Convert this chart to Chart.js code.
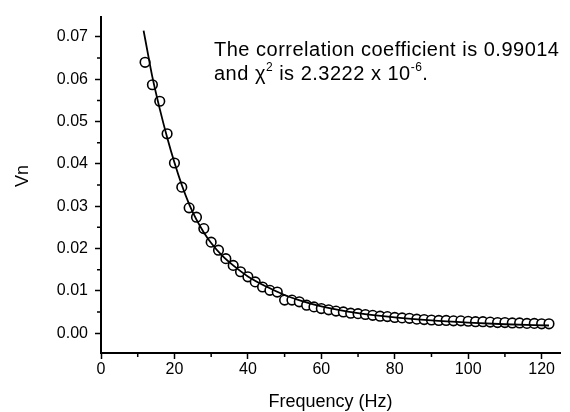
<!DOCTYPE html>
<html>
<head>
<meta charset="utf-8">
<script src="https://cdn.jsdelivr.net/npm/chart.js@4.4.1/dist/chart.umd.min.js"></script>
<style>
    html, body { margin: 0; padding: 0; background: #fff; }
</style>
</head>
<body>
<canvas id="vnChart" width="570" height="412"></canvas>
<script>
// measured points (open circles)
const freq = [12, 14, 16, 18, 20, 22, 24, 26, 28, 30, 32, 34, 36, 38, 40, 42, 44, 46, 48, 50,
    52, 54, 56, 58, 60, 62, 64, 66, 68, 70, 72, 74, 76, 78, 80, 82, 84, 86, 88, 90,
    92, 94, 96, 98, 100, 102, 104, 106, 108, 110, 112, 114, 116, 118, 120, 122];
const vn = [0.0640, 0.0587, 0.0548, 0.0471, 0.0402, 0.0345, 0.0296, 0.0274, 0.0247, 0.0215,
    0.0196, 0.0176, 0.0160, 0.0145, 0.0133, 0.0121, 0.0109, 0.0101, 0.0097, 0.0078,
    0.0078, 0.0074, 0.0066, 0.0062, 0.0058, 0.0055, 0.0052, 0.0050, 0.0047, 0.0046,
    0.0044, 0.0042, 0.0040, 0.0039, 0.0037, 0.0036, 0.0035, 0.0033, 0.0032, 0.0031,
    0.0030, 0.0030, 0.0029, 0.0029, 0.0028, 0.0027, 0.0027, 0.0026, 0.0025, 0.0025,
    0.0024, 0.0024, 0.0023, 0.0023, 0.0022, 0.0022];

// fitted curve
const fitFreq = [11.6, 13, 14, 16, 18, 20, 22, 24, 26, 28, 30, 33, 36, 40, 45, 50, 55, 60, 70, 80, 90, 100, 110, 122];
const fitVn = [0.0715, 0.0650, 0.0605, 0.0530, 0.0463, 0.0403, 0.0350, 0.0305, 0.0268, 0.0238, 0.0213,
    0.0183, 0.0160, 0.0134, 0.0110, 0.0090, 0.0075, 0.0063, 0.0047, 0.0037, 0.0030, 0.0025, 0.0021, 0.0018];

// axes
const xTicks = [0, 20, 40, 60, 80, 100, 120];
const xMinorTicks = [10, 30, 50, 70, 90, 110];
const yTicks = [0.00, 0.01, 0.02, 0.03, 0.04, 0.05, 0.06, 0.07];
const yMinorTicks = [0.005, 0.015, 0.025, 0.035, 0.045, 0.055, 0.065];

const xTitle = 'Frequency (Hz)';
const yTitle = 'Vn';

const FONT = '"Liberation Sans", Arial, sans-serif';
Chart.defaults.font.family = FONT;
Chart.defaults.color = '#000';

// minor ticks, axis titles and the fit note
const extras = {
    id: 'extras',
    afterDraw(chart) {
        const ctx = chart.ctx;
        const x = chart.scales.x;
        const y = chart.scales.y;
        const area = chart.chartArea;
        ctx.save();
        ctx.strokeStyle = '#000';
        ctx.lineWidth = 1.5;
        ctx.beginPath();
        xMinorTicks.forEach(v => {
            const px = x.getPixelForValue(v);
            ctx.moveTo(px, area.bottom);
            ctx.lineTo(px, area.bottom + 4);
        });
        yMinorTicks.forEach(v => {
            const py = y.getPixelForValue(v);
            ctx.moveTo(area.left, py);
            ctx.lineTo(area.left - 4, py);
        });
        ctx.stroke();

        ctx.fillStyle = '#000';
        ctx.font = '18px ' + FONT;
        ctx.textAlign = 'center';
        ctx.textBaseline = 'middle';
        ctx.fillText(xTitle, (area.left + area.right) / 2, 402);
        ctx.translate(23, 176);
        ctx.rotate(-Math.PI / 2);
        ctx.fillText(yTitle, 0, 0);
        ctx.restore();

        // "The correlation coefficient is ..." with superscripts
        ctx.save();
        ctx.fillStyle = '#000';
        ctx.textAlign = 'left';
        ctx.textBaseline = 'alphabetic';
        ctx.letterSpacing = '0.5px';
        const big = '20px ' + FONT;
        const small = '12px ' + FONT;
        ctx.font = big;
        ctx.fillText('The correlation coefficient is 0.99014', 214, 56);
        const parts = [
            ['and \u03C7', big, 0],
            ['2', small, -9],
            [' is 2.3222 x 10', big, 0],
            ['-6', small, -9],
            ['.', big, 0]
        ];
        let cx = 214;
        parts.forEach(([txt, f, dy]) => {
            ctx.font = f;
            ctx.fillText(txt, cx, 80 + dy);
            cx += ctx.measureText(txt).width;
        });
        ctx.restore();
    }
};

const ctx = document.getElementById('vnChart').getContext('2d');
new Chart(ctx, {
    type: 'scatter',
    data: {
        datasets: [
            {
                label: 'fit',
                type: 'line',
                data: fitFreq.map((f, i) => ({ x: f, y: fitVn[i] })),
                borderColor: '#000',
                borderWidth: 1.8,
                pointRadius: 0,
                fill: false,
                cubicInterpolationMode: 'monotone',
                order: 0
            },
            {
                label: 'Vn',
                data: freq.map((f, i) => ({ x: f, y: vn[i] })),
                pointRadius: 4.8,
                pointBorderWidth: 1.6,
                pointBackgroundColor: '#fff',
                pointBorderColor: '#000',
                order: 1
            }
        ]
    },
    options: {
        responsive: false,
        animation: false,
        layout: { padding: { left: 0, right: 10, top: 15, bottom: 0 } },
        plugins: {
            legend: { display: false },
            tooltip: { enabled: false }
        },
        scales: {
            x: {
                type: 'linear',
                min: 0,
                max: 125,
                afterBuildTicks: scale => { scale.ticks = xTicks.map(v => ({ value: v })); },
                afterFit: scale => { scale.height = 59; },
                ticks: {
                    font: { size: 16 },
                    padding: 1,
                    maxRotation: 0,
                    callback: value => String(value)
                },
                grid: {
                    drawOnChartArea: false,
                    drawTicks: true,
                    tickLength: 6,
                    tickWidth: 1.5,
                    tickColor: '#000'
                },
                border: { display: true, color: '#000', width: 2 }
            },
            y: {
                type: 'linear',
                min: -0.0047,
                max: 0.0748,
                afterBuildTicks: scale => { scale.ticks = yTicks.map(v => ({ value: v })); },
                afterFit: scale => { scale.width = 101; },
                ticks: {
                    font: { size: 16 },
                    padding: 7,
                    callback: value => value.toFixed(2)
                },
                grid: {
                    drawOnChartArea: false,
                    drawTicks: true,
                    tickLength: 6,
                    tickWidth: 1.5,
                    tickColor: '#000'
                },
                border: { display: true, color: '#000', width: 2 }
            }
        }
    },
    plugins: [extras]
});
</script>
</body>
</html>
